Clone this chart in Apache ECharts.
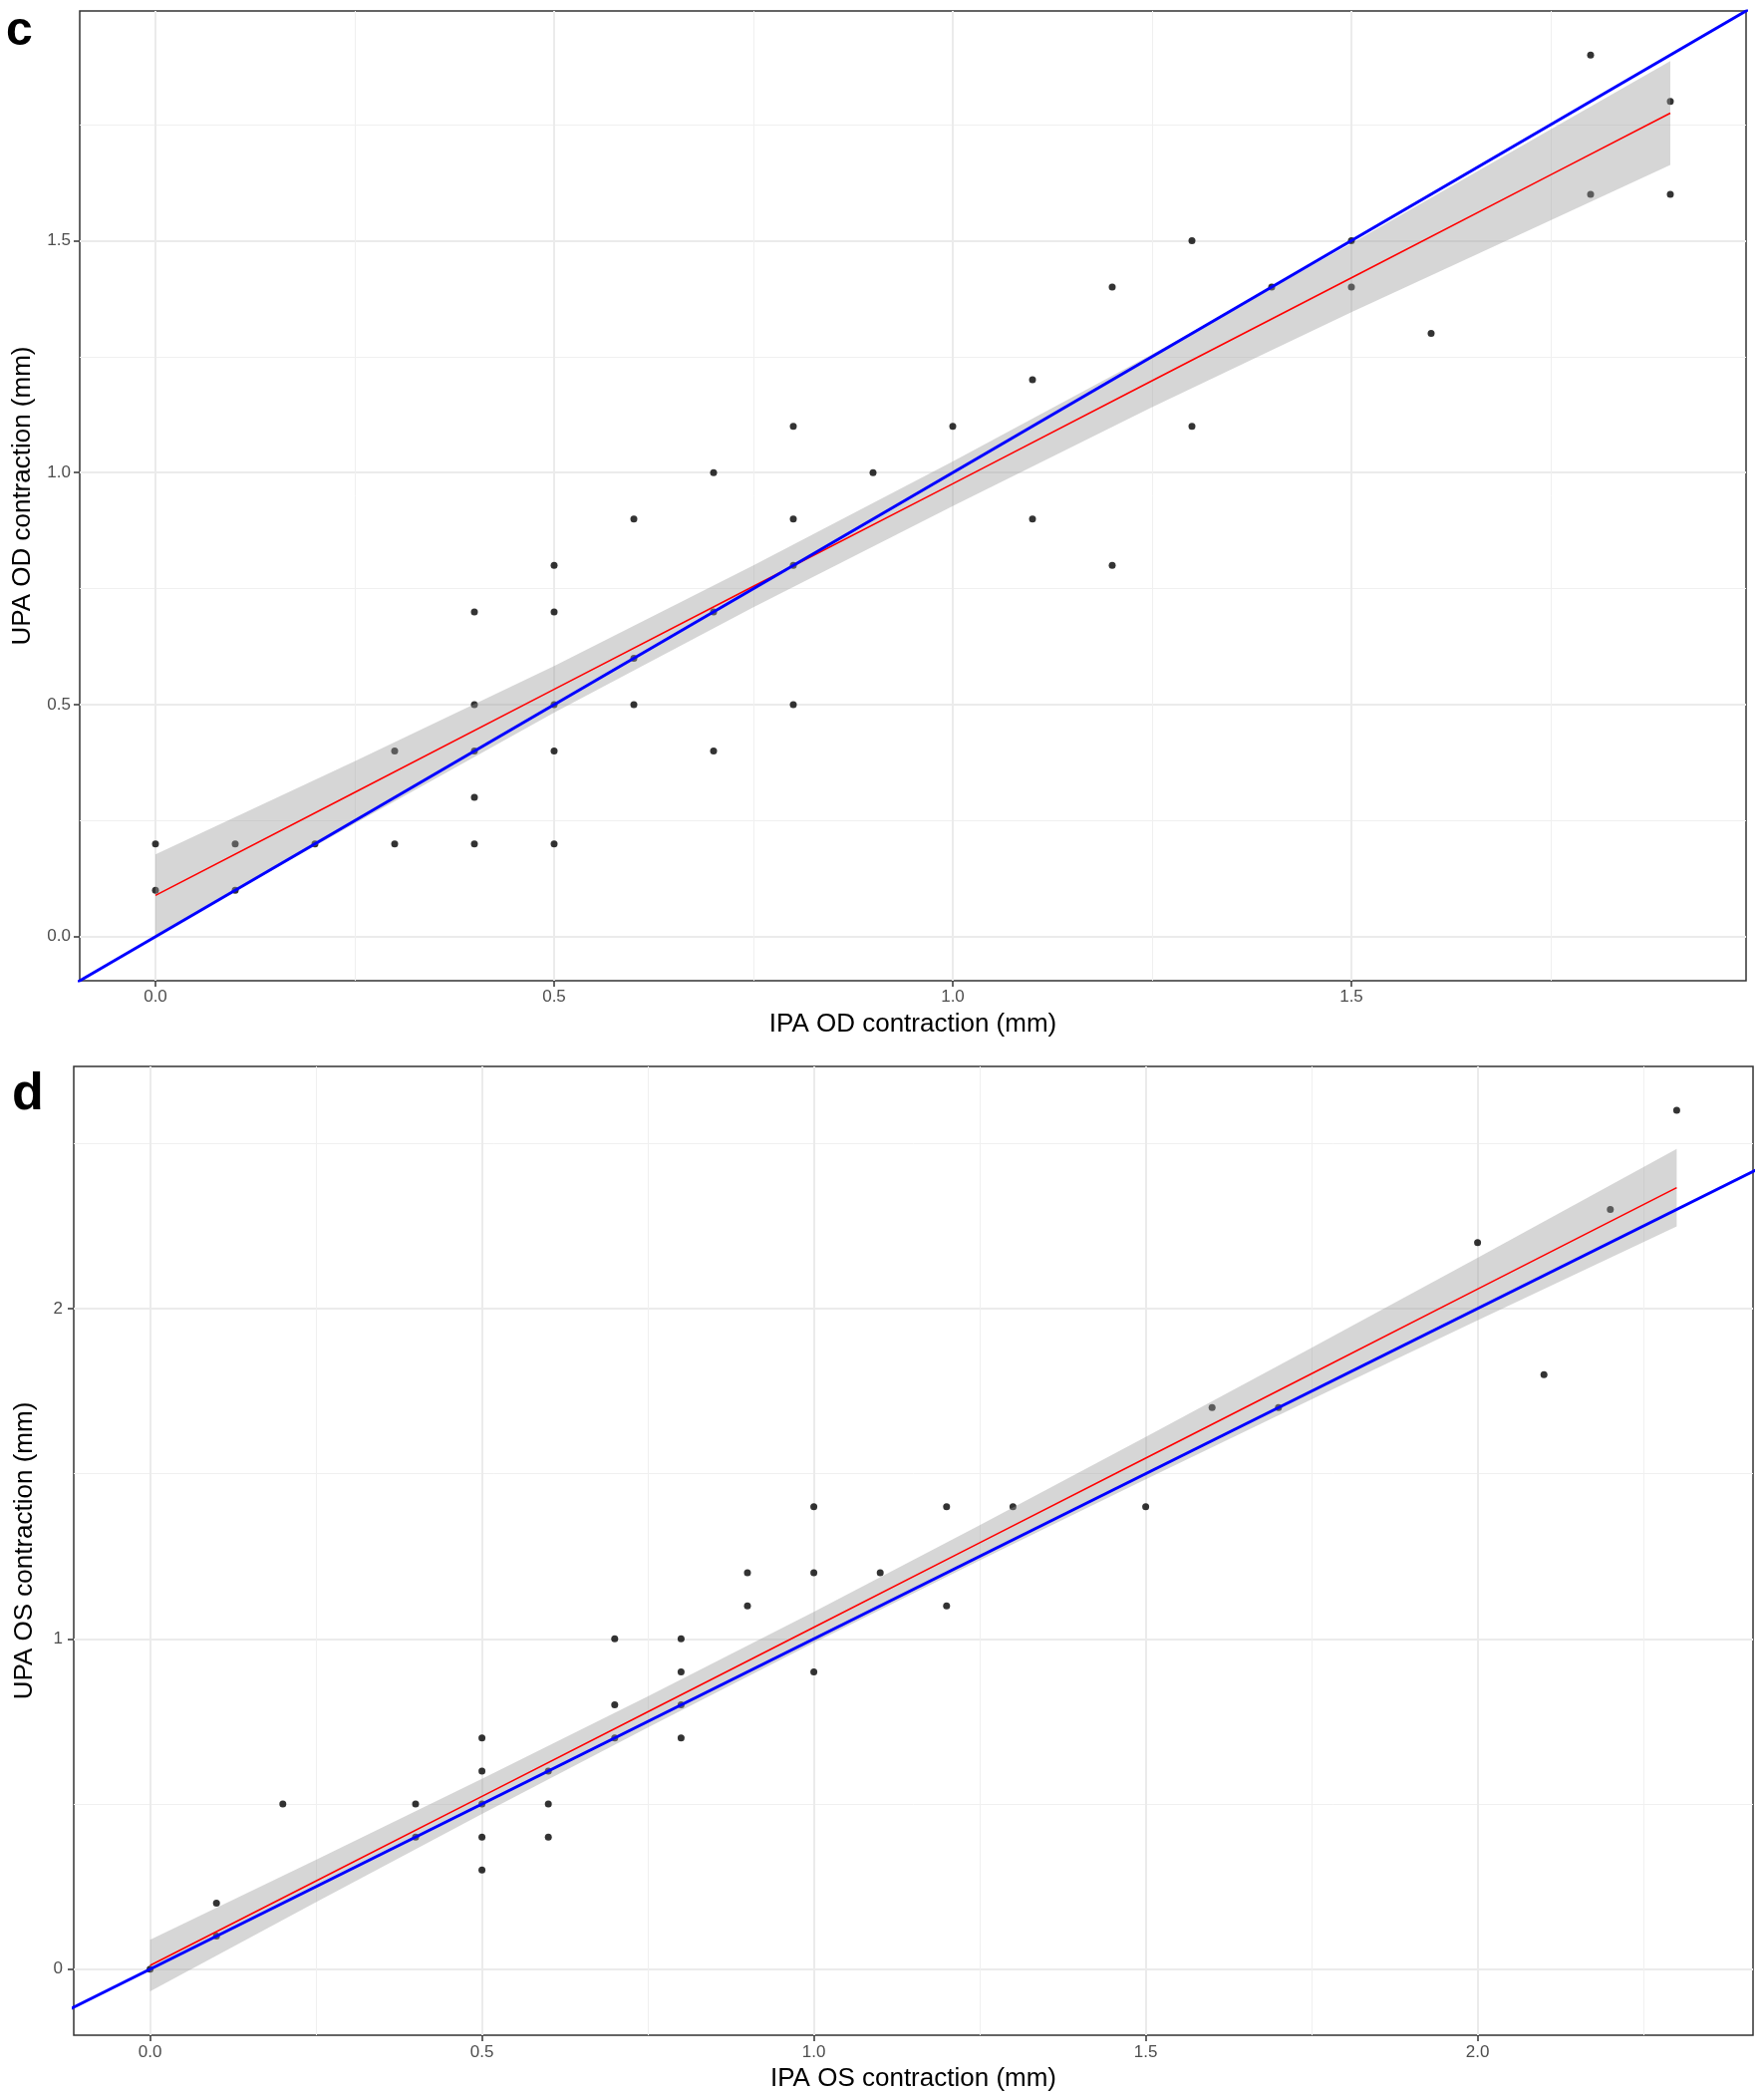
<!DOCTYPE html>
<html>
<head>
<meta charset="utf-8">
<title>IPA vs UPA contraction</title>
<script src="https://cdn.jsdelivr.net/npm/echarts@6.0.0/dist/echarts.min.js"></script>
<style>
  html, body { margin: 0; padding: 0; background: #fff; }
  #chart { width: 1770px; height: 2104px; }
</style>
</head>
<body>
<div id="chart"></div>
<script>
// ---- panel c : OD eye ----
// [IPA OD, UPA OD]
const odPoints = [
  [0, 0.2], [0, 0.1], [0.1, 0.2], [0.1, 0.1], [0.2, 0.2], [0.3, 0.4], [0.3, 0.2],
  [0.4, 0.7], [0.4, 0.5], [0.4, 0.4], [0.4, 0.3], [0.4, 0.2],
  [0.5, 0.8], [0.5, 0.7], [0.5, 0.5], [0.5, 0.4], [0.5, 0.2],
  [0.6, 0.9], [0.6, 0.6], [0.6, 0.5],
  [0.7, 1.0], [0.7, 0.7], [0.7, 0.4],
  [0.8, 1.1], [0.8, 0.9], [0.8, 0.8], [0.8, 0.5],
  [0.9, 1.0], [1.0, 1.1], [1.1, 1.2], [1.1, 0.9], [1.2, 1.4], [1.2, 0.8],
  [1.3, 1.5], [1.3, 1.1], [1.4, 1.4], [1.5, 1.5], [1.5, 1.4], [1.6, 1.3],
  [1.8, 1.9], [1.8, 1.6], [1.9, 1.8], [1.9, 1.6]
]
// lm fit and 95% band
const odFitX = [0, 0.25, 0.5, 0.75, 1.0, 1.25, 1.5, 1.75, 1.9]
const odFitY = [0.089, 0.311, 0.533, 0.755, 0.976, 1.198, 1.420, 1.642, 1.775]
const odFitLo = [0.001, 0.244, 0.483, 0.710, 0.928, 1.141, 1.346, 1.544, 1.663]
const odFitHi = [0.177, 0.378, 0.583, 0.800, 1.024, 1.255, 1.494, 1.740, 1.887]
const odTicks = [0, 0.5, 1.0, 1.5]
const odMinor = [0.25, 0.75, 1.25, 1.75]
const odRange = [-0.095, 1.995]

// ---- panel d : OS eye ----
// [IPA OS, UPA OS]
const osPoints = [
  [0, 0], [0.1, 0.2], [0.1, 0.1], [0.2, 0.5], [0.4, 0.5], [0.4, 0.4],
  [0.5, 0.7], [0.5, 0.6], [0.5, 0.5], [0.5, 0.4], [0.5, 0.3],
  [0.6, 0.6], [0.6, 0.5], [0.6, 0.4],
  [0.7, 1.0], [0.7, 0.8], [0.7, 0.7],
  [0.8, 1.0], [0.8, 0.9], [0.8, 0.8], [0.8, 0.7],
  [0.9, 1.2], [0.9, 1.1], [1.0, 1.4], [1.0, 1.2], [1.0, 0.9], [1.1, 1.2],
  [1.2, 1.4], [1.2, 1.1], [1.3, 1.4], [1.5, 1.4], [1.6, 1.7], [1.7, 1.7],
  [2.0, 2.2], [2.1, 1.8], [2.2, 2.3], [2.3, 2.6]
]
const osFitX = [0, 0.25, 0.5, 0.75, 1.0, 1.25, 1.5, 1.75, 2.0, 2.3]
const osFitY = [0.011, 0.267, 0.523, 0.779, 1.035, 1.291, 1.547, 1.803, 2.059, 2.366]
const osFitLo = [-0.067, 0.203, 0.470, 0.732, 0.988, 1.238, 1.483, 1.725, 1.964, 2.249]
const osFitHi = [0.089, 0.331, 0.576, 0.826, 1.082, 1.344, 1.611, 1.881, 2.154, 2.483]
const osXTicks = [0, 0.5, 1.0, 1.5, 2.0]
const osXMinor = [0.25, 0.75, 1.25, 1.75, 2.25]
const osYTicks = [0, 1, 2]
const osYMinor = [0.5, 1.5, 2.5]
const osXRange = [-0.115, 2.415]
const osYRange = [-0.2, 2.733]

// y = x reference line
const identityLine = [[-1, -1], [3, 3]]

const FONT = '"Liberation Sans", Arial, Helvetica, sans-serif'

function mainAxis(gridIndex, range, ticks, digits, name, nameGap, labelMargin, position) {
  return {
    type: 'value',
    gridIndex: gridIndex,
    position: position,
    min: range[0],
    max: range[1],
    axisLine: { show: false, onZero: false },
    axisTick: {
      show: true,
      length: 6,
      customValues: ticks,
      lineStyle: { color: '#333333', width: 1.5 }
    },
    axisLabel: {
      customValues: ticks,
      margin: labelMargin,
      fontSize: 17,
      color: '#4d4d4d',
      fontFamily: FONT,
      formatter: function (v) { return Number(v).toFixed(digits) }
    },
    splitLine: { show: true, lineStyle: { color: '#ebebeb', width: 2 } },
    name: name,
    nameLocation: 'middle',
    nameGap: nameGap,
    nameTextStyle: { fontSize: 26, color: '#000', fontFamily: FONT }
  }
}

function minorAxis(gridIndex, range, ticks, position) {
  return {
    type: 'value',
    gridIndex: gridIndex,
    position: position,
    min: range[0],
    max: range[1],
    axisLine: { show: false, onZero: false },
    axisTick: { show: false, customValues: ticks },
    axisLabel: { show: false },
    splitLine: { show: true, lineStyle: { color: '#f0f0f0', width: 1 } }
  }
}

function band(xs, lo, hi, xi, yi) {
  return {
    type: 'custom',
    xAxisIndex: xi,
    yAxisIndex: yi,
    silent: true,
    z: 3,
    data: xs.map((x, i) => [x, lo[i], hi[i]]),
    encode: { x: 0, y: [1, 2] },
    renderItem: function (params, api) {
      if (params.dataIndex !== 0) return null
      const pts = []
      xs.forEach((x, i) => pts.push(api.coord([x, hi[i]])))
      for (let i = xs.length - 1; i >= 0; i--) pts.push(api.coord([xs[i], lo[i]]))
      return {
        type: 'polygon',
        shape: { points: pts },
        style: { fill: 'rgba(153,153,153,0.4)' }
      }
    }
  }
}

function fitLine(xs, ys, xi, yi) {
  return {
    type: 'line',
    xAxisIndex: xi,
    yAxisIndex: yi,
    data: xs.map((x, i) => [x, ys[i]]),
    showSymbol: false,
    silent: true,
    z: 4,
    lineStyle: { color: '#ff0000', width: 1.6 }
  }
}

function refLine(xi, yi) {
  return {
    type: 'line',
    xAxisIndex: xi,
    yAxisIndex: yi,
    data: identityLine,
    showSymbol: false,
    silent: true,
    clip: true,
    z: 5,
    lineStyle: { color: '#0000ff', width: 3 }
  }
}

function dots(points, xi, yi) {
  return {
    type: 'scatter',
    xAxisIndex: xi,
    yAxisIndex: yi,
    data: points,
    symbolSize: 7,
    silent: true,
    z: 2,
    itemStyle: { color: '#000' }
  }
}

const chart = echarts.init(document.getElementById('chart'), null, { renderer: 'canvas' })

chart.setOption({
  backgroundColor: '#ffffff',
  animation: false,
  title: [
    { text: 'c', left: 6, top: 8, padding: 0, textStyle: { fontSize: 48, fontWeight: 'bold', color: '#000', fontFamily: FONT } },
    { text: 'd', left: 12, top: 1073, padding: 0, textStyle: { fontSize: 52, fontWeight: 'bold', color: '#000', fontFamily: FONT } }
  ],
  grid: [
    { left: 80, top: 11, width: 1672, height: 973, show: true, borderColor: '#333333', borderWidth: 1.5, backgroundColor: 'transparent' },
    { left: 74, top: 1070, width: 1685, height: 972, show: true, borderColor: '#333333', borderWidth: 1.5, backgroundColor: 'transparent' }
  ],
  xAxis: [
    minorAxis(0, odRange, odMinor, 'top'),
    mainAxis(0, odRange, odTicks, 1, 'IPA OD contraction (mm)', 31, 8, 'bottom'),
    minorAxis(1, osXRange, osXMinor, 'top'),
    mainAxis(1, osXRange, osXTicks, 1, 'IPA OS contraction (mm)', 31, 9, 'bottom')
  ],
  yAxis: [
    minorAxis(0, odRange, odMinor, 'right'),
    mainAxis(0, odRange, odTicks, 1, 'UPA OD contraction (mm)', 44, 9, 'left'),
    minorAxis(1, osYRange, osYMinor, 'right'),
    mainAxis(1, osYRange, osYTicks, 0, 'UPA OS contraction (mm)', 36, 11, 'left')
  ],
  series: [
    dots(odPoints, 1, 1),
    band(odFitX, odFitLo, odFitHi, 1, 1),
    fitLine(odFitX, odFitY, 1, 1),
    refLine(1, 1),
    dots(osPoints, 3, 3),
    band(osFitX, osFitLo, osFitHi, 3, 3),
    fitLine(osFitX, osFitY, 3, 3),
    refLine(3, 3)
  ]
})
</script>
</body>
</html>
